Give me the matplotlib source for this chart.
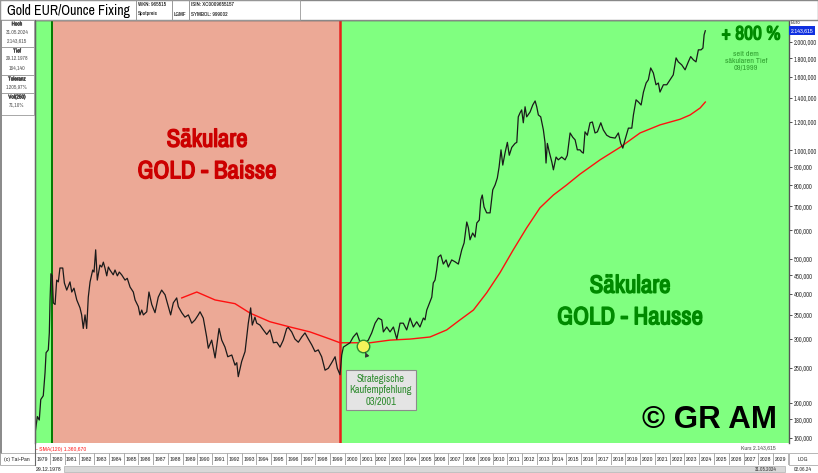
import matplotlib.pyplot as plt
import matplotlib.patheffects as pe
from matplotlib.patches import Rectangle

# --- data (EUR per ounce, log scale) ---
price_years = [1979.00, 1979.16, 1979.29, 1979.39, 1979.56, 1979.68, 1979.75, 1979.90, 1979.97, 1980.02,
               1980.08, 1980.17, 1980.24, 1980.36, 1980.47, 1980.58, 1980.69, 1980.88, 1980.99, 1981.15,
               1981.37, 1981.49, 1981.64, 1981.83, 1982.05, 1982.16, 1982.27, 1982.39, 1982.50, 1982.61,
               1982.73, 1982.91, 1983.00, 1983.11, 1983.22, 1983.40, 1983.52, 1983.63, 1983.74, 1983.86,
               1983.97, 1984.08, 1984.30, 1984.42, 1984.58, 1984.71, 1984.87, 1985.10, 1985.25, 1985.44,
               1985.66, 1985.78, 1986.00, 1986.11, 1986.23, 1986.34, 1986.57, 1986.72, 1986.91, 1987.13,
               1987.35, 1987.58, 1987.81, 1988.03, 1988.19, 1988.37, 1988.60, 1988.71, 1988.94, 1989.16,
               1989.39, 1989.62, 1989.84, 1990.06, 1990.18, 1990.40, 1990.63, 1990.74, 1990.97, 1991.20,
               1991.47, 1991.65, 1991.87, 1992.06, 1992.33, 1992.55, 1992.67, 1992.77, 1993.00, 1993.23,
               1993.45, 1993.61, 1993.72, 1993.90, 1994.02, 1994.24, 1994.47, 1994.70, 1994.92, 1995.15,
               1995.38, 1995.60, 1995.82, 1996.05, 1996.16, 1996.39, 1996.61, 1996.84, 1997.07, 1997.29,
               1997.52, 1997.75, 1997.97, 1998.19, 1998.42, 1998.65, 1998.87, 1999.10, 1999.33, 1999.48,
               1999.66, 1999.78, 1999.89, 2000.12, 2000.34, 2000.56, 2000.80, 2001.02, 2001.20, 2001.36,
               2001.58, 2001.81, 2002.04, 2002.26, 2002.49, 2002.60, 2002.83, 2003.05, 2003.28, 2003.51,
               2003.73, 2003.95, 2004.18, 2004.41, 2004.63, 2004.86, 2005.08, 2005.31, 2005.42, 2005.54,
               2005.76, 2005.88, 2005.98, 2006.10, 2006.21, 2006.32, 2006.49, 2006.66, 2006.85, 2007.00,
               2007.23, 2007.46, 2007.68, 2007.91, 2008.07, 2008.25, 2008.36, 2008.47, 2008.65, 2008.81,
               2008.93, 2009.10, 2009.20, 2009.30, 2009.42, 2009.60, 2009.83, 2010.01, 2010.17, 2010.32,
               2010.44, 2010.57, 2010.69, 2010.84, 2011.00, 2011.13, 2011.30, 2011.52, 2011.64, 2011.74,
               2011.86, 2011.97, 2012.08, 2012.20, 2012.31, 2012.54, 2012.72, 2012.88, 2012.99, 2013.10,
               2013.26, 2013.44, 2013.55, 2013.62, 2013.71, 2013.84, 2014.01, 2014.12, 2014.30, 2014.45,
               2014.68, 2014.91, 2015.06, 2015.25, 2015.43, 2015.59, 2015.74, 2015.92, 2016.04, 2016.15,
               2016.26, 2016.42, 2016.60, 2016.76, 2016.94, 2017.10, 2017.33, 2017.50, 2017.73, 2017.96,
               2018.30, 2018.52, 2018.68, 2018.82, 2018.97, 2019.20, 2019.43, 2019.54, 2019.72, 2019.88,
               2020.06, 2020.22, 2020.40, 2020.55, 2020.71, 2020.89, 2021.07, 2021.23, 2021.34, 2021.57,
               2021.80, 2022.02, 2022.24, 2022.43, 2022.58, 2022.81, 2023.04, 2023.26, 2023.42, 2023.60,
               2023.78, 2023.94, 2024.12, 2024.25, 2024.33, 2024.41]
price_values = [164.14, 183, 179, 204, 209, 242, 275, 280, 312, 385,
                455, 449, 378, 374, 437, 432, 472, 472, 429, 410,
                432, 405, 415, 385, 366, 350, 321, 350, 321, 392,
                432, 466, 460, 530, 437, 481, 475, 490, 472, 449,
                475, 466, 452, 466, 449, 460, 452, 437, 442, 418,
                405, 385, 369, 350, 361, 350, 357, 405, 374, 355,
                392, 410, 398, 369, 350, 378, 390, 369, 355, 345,
                350, 332, 339, 350, 357, 343, 304, 283, 298, 266,
                321, 298, 285, 268, 271, 254, 258, 236, 260, 277,
                332, 366, 328, 345, 332, 328, 318, 309, 318, 293,
                294, 285, 298, 321, 323, 314, 300, 294, 304, 312,
                300, 289, 277, 280, 268, 246, 249, 258, 268, 249,
                239, 271, 285, 289, 293, 304, 312, 294, 285, 293,
                298, 312, 332, 343, 339, 314, 324, 314, 324, 300,
                332, 332, 318, 343, 324, 335, 324, 343, 339, 361,
                381, 392, 429, 437, 466, 506, 513, 484, 497, 475,
                497, 491, 484, 530, 554, 633, 610, 565, 590, 575,
                629, 641, 729, 752, 697, 671, 671, 777, 802, 838,
                899, 1003, 910, 982, 1052, 969, 1019, 1045, 1052, 1238,
                1270, 1294, 1192, 1320, 1238, 1277, 1335, 1370, 1320, 1253,
                1238, 1139, 1052, 922, 1045, 989, 929, 883, 958, 941,
                958, 941, 969, 1117, 1087, 1069, 1003, 1003, 989, 982,
                1125, 1101, 1192, 1198, 1117, 1125, 1192, 1139, 1101, 1087,
                1081, 1117, 1045, 1014, 1069, 1152, 1152, 1253, 1380, 1361,
                1335, 1450, 1536, 1568, 1691, 1638, 1519, 1536, 1450, 1519,
                1519, 1568, 1618, 1803, 1758, 1725, 1671, 1758, 1818, 1781,
                1758, 1898, 1898, 1920, 2089, 2143.615]

sma_years = [1988.94, 1989.96, 1991.20, 1992.55, 1993.57, 1994.92, 1996.28, 1997.63, 1998.99, 1999.66,
             2000.34, 2001.70, 2003.05, 2004.41, 2005.76, 2006.89, 2007.79, 2008.70, 2009.60, 2010.50,
             2011.40, 2012.31, 2013.21, 2014.12, 2015.02, 2015.92, 2017.28, 2018.63, 2019.99, 2021.34,
             2022.70, 2023.38, 2024.06, 2024.41]
sma_values = [390, 405, 385, 376, 354, 335, 324, 314, 300, 293,
              293, 293, 298, 300, 304, 318, 339, 361, 403, 458,
              530, 610, 693, 752, 802, 859, 941, 1019, 1117, 1176,
              1219, 1253, 1310, 1360.67]

secular_high = 1980.15
secular_low = 1999.66
buy_date, buy_price = 2001.20, 287

year_labels = list(range(1979, 2030))
y_ticks = [160, 180, 200, 250, 300, 350, 400, 450, 500, 600, 700, 800, 900,
           1000, 1200, 1400, 1600, 1800, 2000]

GREEN_BG = '#80FF80'
RED_BG = '#ECA996'
DARK_GREEN = '#008A00'
BAISSE_RED = '#CC0000'
NARROW = ['Archivo Narrow', 'Liberation Sans', 'DejaVu Sans']

W, H = 818, 473


def fx(px):
    return px / W


def fy(py):
    return 1 - py / H


def de(v, nd=3):
    s = f'{v:,.{nd}f}'
    return s.replace(',', 'X').replace('.', ',').replace('X', '.')


def heavy(color, lw=1.0):
    # thicken the narrow face, it only comes in a regular weight here
    return [pe.withStroke(linewidth=lw, foreground=color)]


plt.rcParams['font.family'] = NARROW
fig = plt.figure(figsize=(W / 100, H / 100), dpi=100)
fig.patch.set_facecolor('white')

# --- main chart ---
ax = fig.add_axes([fx(35), fy(443), fx(789) - fx(35), fy(20) - fy(443)])
ax.set_yscale('log')
ax.set_xlim(1979.0, 2030.08)
ax.set_ylim(154.6, 2296)
ax.axvspan(1979.0, secular_high, color=GREEN_BG, lw=0)
ax.axvspan(secular_high, secular_low, color=RED_BG, lw=0)
ax.axvspan(secular_low, 2030.08, color=GREEN_BG, lw=0)
ax.axvline(secular_high, color='#007A00', lw=1.4)
ax.axvline(secular_low, color='#E8201C', lw=1.8)
ax.plot(sma_years, sma_values, color='#FF1010', lw=1.0)
ax.plot(price_years, price_values, color='#1A1A1A', lw=0.9)
ax.plot(buy_date, buy_price, 'o', ms=9, mfc='#F4F45A', mec='#2E8B2E', mew=1.0)

ax.yaxis.tick_right()
ax.set_yticks(y_ticks)
ax.set_yticklabels([de(v) for v in y_ticks])
ax.yaxis.set_minor_locator(plt.NullLocator())
ax.set_xticks([])
ax.tick_params(axis='y', labelsize=4.6, length=2, width=0.6, colors='#333333', pad=1.5)
for side in ['top', 'left', 'right']:
    ax.spines[side].set_color('#555555')
    ax.spines[side].set_linewidth(1.0)
ax.spines['bottom'].set_visible(False)

ax.annotate('Strategische\nKaufempfehlung\n03/2001', xy=(buy_date, buy_price),
            xytext=(fx(381), fy(390)), textcoords='figure fraction',
            ha='center', va='center', fontsize=7.5, color='#2E8B2E', linespacing=1.15,
            bbox=dict(boxstyle='square,pad=0.4', fc='#E4E4E4', ec='#8C8C8C', lw=0.8),
            arrowprops=dict(arrowstyle='-|>', color='#333333', lw=0.7,
                            shrinkA=13, shrinkB=5, mutation_scale=6))

fig.text(fx(207), fy(155), 'Säkulare\nGOLD - Baisse', ha='center', va='center',
         color=BAISSE_RED, fontsize=18, linespacing=1.45, path_effects=heavy(BAISSE_RED))
fig.text(fx(630), fy(301), 'Säkulare\nGOLD - Hausse', ha='center', va='center',
         color=DARK_GREEN, fontsize=18, linespacing=1.45, path_effects=heavy(DARK_GREEN))
fig.text(fx(751), fy(34), '+ 800 %', ha='center', va='center',
         color=DARK_GREEN, fontsize=14, path_effects=heavy(DARK_GREEN, 0.9))
fig.text(fx(746), fy(61), 'seit dem\nsäkularen Tief\n09/1999', ha='center', va='center',
         color='#2E9E2E', fontsize=5.8, linespacing=1.2)
fig.text(fx(709), fy(420), '© GR AM', ha='center', va='center',
         color='black', fontsize=22.5, fontweight='bold',
         family=['Liberation Sans', 'DejaVu Sans'])

# --- header ---
fig.add_artist(Rectangle((0, fy(20)), 1, 1 - fy(20), transform=fig.transFigure,
                         fc='white', ec='#888888', lw=1.0))
fig.text(fx(68), fy(11), 'Gold EUR/Ounce Fixing', ha='center', va='center', fontsize=10)
for x0, x1 in [(0, 136), (136, 172), (172, 189), (189, 300)]:
    fig.add_artist(Rectangle((fx(x0), fy(20)), fx(x1) - fx(x0), fy(0) - fy(20),
                             transform=fig.transFigure, fc='none', ec='#999999', lw=0.6))
fig.text(fx(138), fy(5), 'WKN: 965515', fontsize=4, va='center')
fig.text(fx(138), fy(14), 'Spotpreis', fontsize=4, va='center')
fig.text(fx(174), fy(14), 'LGMF', fontsize=4, va='center')
fig.text(fx(191), fy(5), 'ISIN: XC0009655157', fontsize=4, va='center')
fig.text(fx(191), fy(14), 'SYMBOL: 999002', fontsize=4, va='center')

# --- left info panel ---
info = [('Hoch', ['31.05.2024', de(max(price_values))], 20, 47),
        ('Tief', ['29.12.1978', de(min(price_values))], 47, 75),
        ('Toleranz', ['1.205,97%'], 75, 93),
        ('Vol(250)', ['71,10%'], 93, 115)]
for head, lines, y0, y1 in info:
    fig.add_artist(Rectangle((fx(0), fy(y1)), fx(34), fy(y0) - fy(y1),
                             transform=fig.transFigure, fc='white', ec='#999999', lw=0.6))
    fig.text(fx(17), fy(y0 + 4), head, ha='center', va='center', fontsize=4,
             color='#444444', path_effects=heavy('#444444', 0.3))
    for i, t in enumerate(lines):
        fig.text(fx(17), fy(y0 + 12 + 9 * i), t, ha='center', va='center', fontsize=4,
                 color='#555555')
fig.add_artist(Rectangle((0, fy(465)), fx(2), fy(20) - fy(465), transform=fig.transFigure,
                         fc='#8C8C8C', ec='none'))
fig.add_artist(plt.Line2D([fx(34.5), fx(34.5)], [fy(465), fy(20)], transform=fig.transFigure,
                          color='#666666', lw=0.8))

# --- right axis header ---
fig.text(fx(791), fy(23), 'Euro', fontsize=4, va='center', color='#444444')
fig.text(fx(791), fy(30.5), de(price_values[-1]), fontsize=4.5, va='center',
         color='white', fontweight='bold',
         bbox=dict(boxstyle='square,pad=0.25', fc='#1030E0', ec='none'))

# --- strip under the chart ---
fig.text(fx(36), fy(449), '- SMA(120) ' + de(sma_values[-1]), fontsize=4.5, va='center',
         color='#FF3030')
fig.text(fx(776), fy(448), 'Kurs ' + de(price_values[-1]), fontsize=4.5, va='center',
         ha='right', color='#555555')

# --- year ruler ---
axy = fig.add_axes([fx(35), fy(465), fx(789) - fx(35), fy(453) - fy(465)])
axy.set_xlim(1979.0, 2030.08)
axy.set_ylim(0, 1)
axy.axis('off')
for yr in year_labels:
    axy.add_patch(Rectangle((yr, 0), 1, 1, fc='white', ec='#9A9A9A', lw=0.5))
    axy.text(yr + 0.5, 0.5, str(yr), ha='center', va='center', fontsize=4.5,
             color='#333333')
fig.add_artist(Rectangle((0, fy(465)), fx(35), fy(453) - fy(465), transform=fig.transFigure,
                         fc='white', ec='#9A9A9A', lw=0.5))
fig.text(fx(17), fy(459), '(c) Tai-Pan', ha='center', va='center', fontsize=4.5,
         color='#333333')
fig.add_artist(Rectangle((fx(789), fy(465)), fx(818 - 789), fy(453) - fy(465),
                         transform=fig.transFigure, fc='white', ec='#9A9A9A', lw=0.5))
fig.text(fx(803), fy(459), 'LOG', ha='center', va='center', fontsize=4.5, color='#333333')

# --- scroll bar row ---
fig.text(fx(36), fy(469), '29.12.1978', fontsize=4.5, va='center', color='#333333')
fig.add_artist(Rectangle((fx(64), fy(472)), fx(785 - 64), fy(466) - fy(472),
                         transform=fig.transFigure, fc='#D8D8D8', ec='#B0B0B0', lw=0.5))
fig.text(fx(755), fy(469), '31.05.2024', fontsize=3.8, va='center', color='#333333')
fig.text(fx(794), fy(469), '02.06.24', fontsize=4, va='center', color='#333333')

fig.savefig('out.png', dpi=100)
